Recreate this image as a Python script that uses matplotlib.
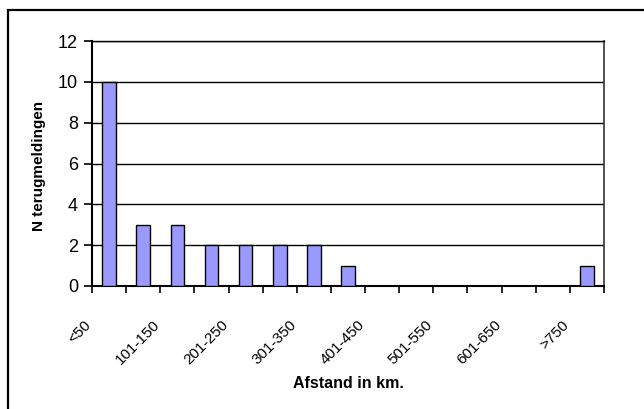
import matplotlib
matplotlib.use("Agg")
import matplotlib.pyplot as plt
import matplotlib.transforms as mtransforms
from matplotlib.patches import Rectangle
import numpy as np

categories = ["<50", "51-100", "101-150", "151-200", "201-250", "251-300",
              "301-350", "351-400", "401-450", "451-500", "501-550", "551-600",
              "601-650", "651-700", ">750"]
counts = [10, 3, 3, 2, 2, 2, 2, 1, 0, 0, 0, 0, 0, 0, 1]
y_ticks = [0, 2, 4, 6, 8, 10, 12]

plt.rcParams['font.family'] = ['Liberation Sans', 'DejaVu Sans']

W, H = 644, 409
fig = plt.figure(figsize=(W / 100, H / 100), dpi=100)
fig.patch.set_facecolor('white')

# outer chart border (only top & left visible)
fig.patches.append(Rectangle((8 / W, -0.2), 1.2, 0.2 + (1 - 10 / H),
                             transform=fig.transFigure, fill=False,
                             edgecolor='black', linewidth=1.6))

ax = fig.add_axes([92 / W, 1 - 286 / H, (604 - 92) / W, (286 - 41) / H])

n = len(categories)
x = np.arange(n) + 0.5
ax.bar(x, counts, width=0.4, color='#9999FF', edgecolor='black', linewidth=1.0, zorder=3)

ax.set_xlim(0, n)
ax.set_ylim(0, 12)
ax.set_yticks(y_ticks)
ax.set_yticklabels([str(v) for v in y_ticks], fontsize=13)
for v in y_ticks[1:]:
    ax.axhline(v, color='black', linewidth=1.0, zorder=1)

ax.set_xticks(np.arange(n + 1))
ax.set_xticklabels([])
ax.set_xticks(x[::2], minor=True)
ax.set_xticklabels(categories[::2], minor=True, rotation=45, ha='right', va='top',
                   fontsize=11)
ax.tick_params(axis='x', which='major', direction='out', length=5, width=1.2)
ax.tick_params(axis='x', which='minor', length=0, pad=23)
ax.tick_params(axis='y', direction='out', length=6, width=1.2, pad=4)

offset = mtransforms.ScaledTranslation(-15 / 100, 0, fig.dpi_scale_trans)
for lbl in ax.get_xticklabels(minor=True):
    lbl.set_transform(lbl.get_transform() + offset)

for s in ['left', 'bottom']:
    ax.spines[s].set_linewidth(1.5)
ax.spines['right'].set_linewidth(1.2)
ax.spines['right'].set_color('#333333')
ax.spines['top'].set_linewidth(1.0)

fig.text(348 / W, 1 - 383 / H, "Afstand in km.", ha='center', va='center',
         fontsize=11.5, fontweight='bold')
fig.text(38.5 / W, 1 - 166 / H, "N terugmeldingen", ha='center', va='center',
         rotation=90, fontsize=11, fontweight='bold')

fig.savefig("out.png", dpi=100, facecolor='white')
